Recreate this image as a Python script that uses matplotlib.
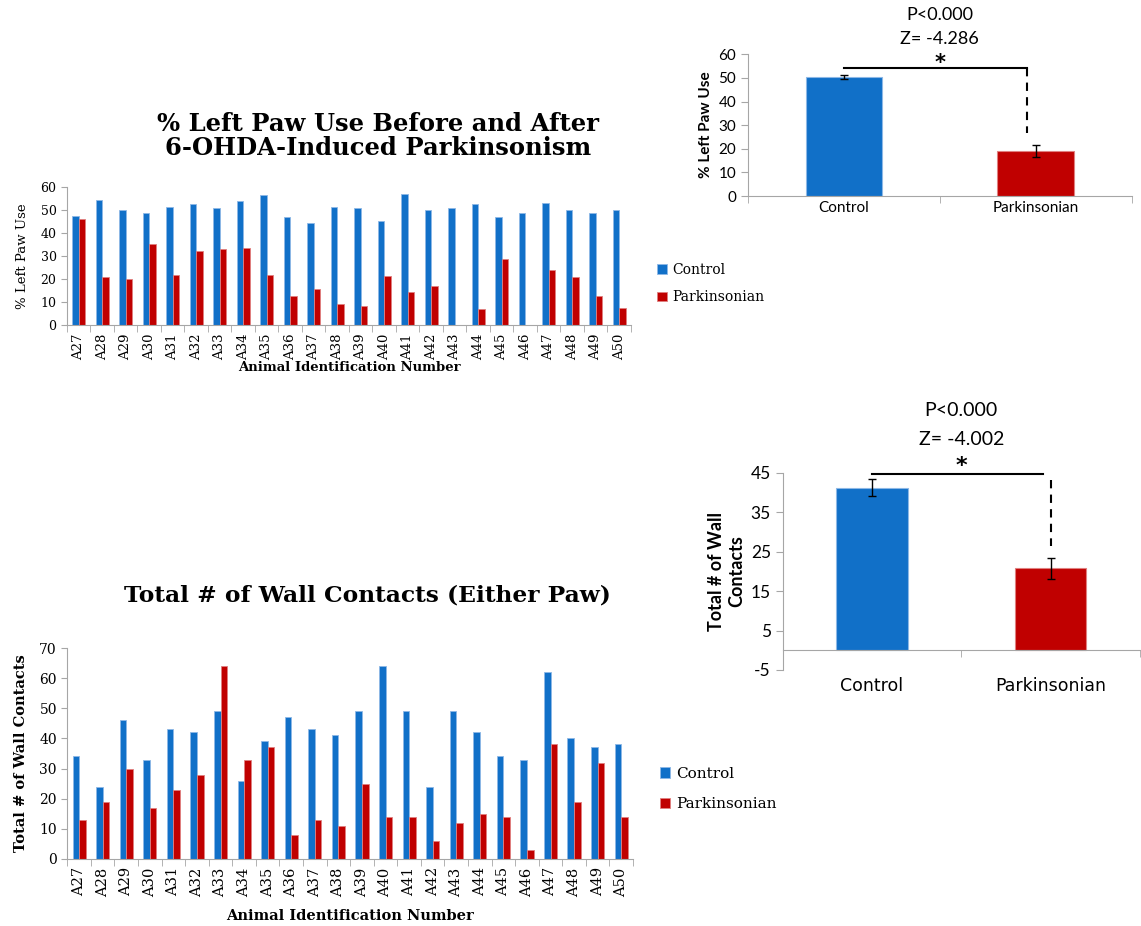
import matplotlib
matplotlib.use("Agg")
import matplotlib.pyplot as plt
import numpy as np

plt.rcParams["axes.unicode_minus"] = False

# Animal IDs and per-animal measurements
animals = [f"A{n}" for n in range(27, 51)]

paw_control = [47.3, 54.2, 50.1, 48.7, 51.3, 52.5, 51.0, 53.9, 56.5, 46.8, 44.2, 51.3,
               51.0, 45.4, 57.1, 50.0, 51.0, 52.5, 47.1, 48.6, 53.2, 50.0, 48.7, 50.0]
paw_park = [46.2, 21.1, 20.1, 35.4, 21.8, 32.2, 32.9, 33.4, 21.7, 12.6, 15.5, 9.2,
            8.1, 21.5, 14.3, 16.8, 0.0, 6.8, 28.6, 0.0, 23.8, 21.1, 12.6, 7.2]

wall_control = [34, 24, 46, 33, 43, 42, 49, 26, 39, 47, 43, 41,
                49, 64, 49, 24, 49, 42, 34, 33, 62, 40, 37, 38]
wall_park = [13, 19, 30, 17, 23, 28, 64, 33, 37, 8, 13, 11,
             25, 14, 14, 6, 12, 15, 14, 3, 38, 19, 32, 14]

# Group means with standard error
groups = ["Control", "Parkinsonian"]
paw_mean = [50.4, 19.1]
paw_sem = [0.8, 2.4]
wall_mean = [41.2, 20.8]
wall_sem = [2.1, 2.7]

blue = "#1170C8"
red = "#C00000"
blue_edge = "#8DB8E6"
red_edge = "#E08080"
grey = "#A6A6A6"
serif = "DejaVu Serif"
sans = "Lato"

fig = plt.figure(figsize=(11.41, 9.26), dpi=100)


def animal_bars(ax, control, park, ymax, ylabel, ylabel_bold, fs, xpad):
    x = np.arange(len(animals))
    w = 0.28
    ax.bar(x - w / 2, control, w, color=blue, edgecolor=blue_edge, linewidth=0.6, label="Control")
    ax.bar(x + w / 2, park, w, color=red, edgecolor=red_edge, linewidth=0.6, label="Parkinsonian")
    ax.set_xlim(-0.5, len(animals) - 0.5)
    ax.set_ylim(0, ymax)
    ax.set_yticks(np.arange(0, ymax + 1, 10))
    ax.set_xticks(x)
    ax.set_xticklabels(animals, rotation=90, fontfamily=serif, fontsize=fs)
    ax.set_xticks(np.arange(-0.5, len(animals)), minor=True)
    ax.tick_params(axis="x", which="major", length=0, pad=6)
    ax.tick_params(axis="x", which="minor", length=5, color=grey)
    ax.tick_params(axis="y", length=4, color=grey, labelsize=fs - 0.5)
    for t in ax.get_yticklabels():
        t.set_fontfamily(serif)
    for s in ["top", "right"]:
        ax.spines[s].set_visible(False)
    for s in ["left", "bottom"]:
        ax.spines[s].set_color(grey)
    ax.set_xlabel("Animal Identification Number", fontfamily=serif, fontweight="bold",
                  fontsize=fs, labelpad=xpad)
    ax.set_ylabel(ylabel, fontfamily=serif, fontsize=fs,
                  fontweight="bold" if ylabel_bold else "normal", labelpad=8)


def group_bars(ax, means, sems, ylim, yticks, ylabel, tick_fs, label_fs):
    x = np.arange(2)
    ax.bar(x, means, 0.4, color=[blue, red], edgecolor=[blue_edge, red_edge], linewidth=0.8)
    ax.errorbar(x, means, yerr=sems, fmt="none", ecolor="black", elinewidth=1, capsize=3, capthick=1)
    ax.set_xlim(-0.5, 1.5)
    ax.set_ylim(*ylim)
    ax.set_yticks(yticks)
    ax.set_xticks(x)
    ax.set_xticklabels(groups)
    ax.set_xticks([-0.5, 0.5, 1.5], minor=True)
    ax.tick_params(axis="x", which="major", length=0, labelsize=tick_fs)
    ax.tick_params(axis="x", which="minor", length=5, color=grey)
    ax.tick_params(axis="y", length=5, color=grey, labelsize=tick_fs)
    for t in ax.get_xticklabels() + ax.get_yticklabels():
        t.set_fontfamily(sans)
    for s in ["top", "right"]:
        ax.spines[s].set_visible(False)
    for s in ["left", "bottom"]:
        ax.spines[s].set_color(grey)
    ax.set_ylabel(ylabel, fontfamily=sans, fontweight="bold", fontsize=label_fs)


# Per-animal paw use
ax1 = fig.add_axes([0.0587, 0.649, 0.4943, 0.149])
animal_bars(ax1, paw_control, paw_park, 60, "% Left Paw Use", False, 9.5, 1)
fig.text(0.331, 0.853, "% Left Paw Use Before and After\n6-OHDA-Induced Parkinsonism",
         ha="center", va="center", fontfamily=serif, fontweight="bold", fontsize=17.5,
         linespacing=1.0)
fig.legend(*ax1.get_legend_handles_labels(), loc="upper left", bbox_to_anchor=(0.565, 0.73),
           frameon=False, prop={"family": serif, "size": 10}, handlelength=0.7,
           handleheight=0.7, handletextpad=0.4, labelspacing=1.0)

# Per-animal wall contacts
ax2 = fig.add_axes([0.059, 0.0724, 0.4958, 0.2278])
animal_bars(ax2, wall_control, wall_park, 70, "Total # of Wall Contacts", True, 10.5, 9)
fig.text(0.322, 0.357, "Total # of Wall Contacts (Either Paw)", ha="center", va="center",
         fontfamily=serif, fontweight="bold", fontsize=16.8)
fig.legend(*ax2.get_legend_handles_labels(), loc="upper left", bbox_to_anchor=(0.566, 0.187),
           frameon=False, prop={"family": serif, "size": 11}, handlelength=0.7,
           handleheight=0.7, handletextpad=0.4, labelspacing=1.1)

# Group means: paw use
ax3 = fig.add_axes([0.6556, 0.7883, 0.3362, 0.1531])
group_bars(ax3, paw_mean, paw_sem, (0, 60), np.arange(0, 61, 10), "% Left Paw Use", 11, 11)
ax3.plot([0, 0.953], [54.2, 54.2], color="black", lw=1.5, clip_on=False)
ax3.plot([0.953, 0.953], [54.2, 26.5], color="black", lw=1.5, ls=(0, (4, 3)), clip_on=False)
ax3.text(0.5, 56.5, "*", ha="center", va="center", fontsize=15, fontweight="bold",
         fontfamily="DejaVu Sans", clip_on=False)
ax3.text(0.5, 76.6, "P<0.000", ha="center", va="center", fontsize=13, fontfamily=sans, clip_on=False)
ax3.text(0.5, 66.5, "Z= -4.286", ha="center", va="center", fontsize=13, fontfamily=sans, clip_on=False)

# Group means: wall contacts
ax4 = fig.add_axes([0.686, 0.2765, 0.313, 0.213])
group_bars(ax4, wall_mean, wall_sem, (-5, 45), np.arange(-5, 46, 10), "Total # of Wall\nContacts", 12.5, 13)
ax4.spines["bottom"].set_position(("data", 0))
ax4.tick_params(axis="x", which="major", pad=19)
ax4.plot([0, 0.957], [44.7, 44.7], color="black", lw=1.5, clip_on=False)
ax4.plot([1.0, 1.0], [43.1, 26.3], color="black", lw=1.5, ls=(0, (4, 3)), clip_on=False)
ax4.text(0.5, 46.6, "*", ha="center", va="center", fontsize=16, fontweight="bold",
         fontfamily="DejaVu Sans", clip_on=False)
ax4.text(0.5, 60.9, "P<0.000", ha="center", va="center", fontsize=14, fontfamily=sans, clip_on=False)
ax4.text(0.5, 53.5, "Z= -4.002", ha="center", va="center", fontsize=14, fontfamily=sans, clip_on=False)

fig.savefig("out.png", dpi=100)
